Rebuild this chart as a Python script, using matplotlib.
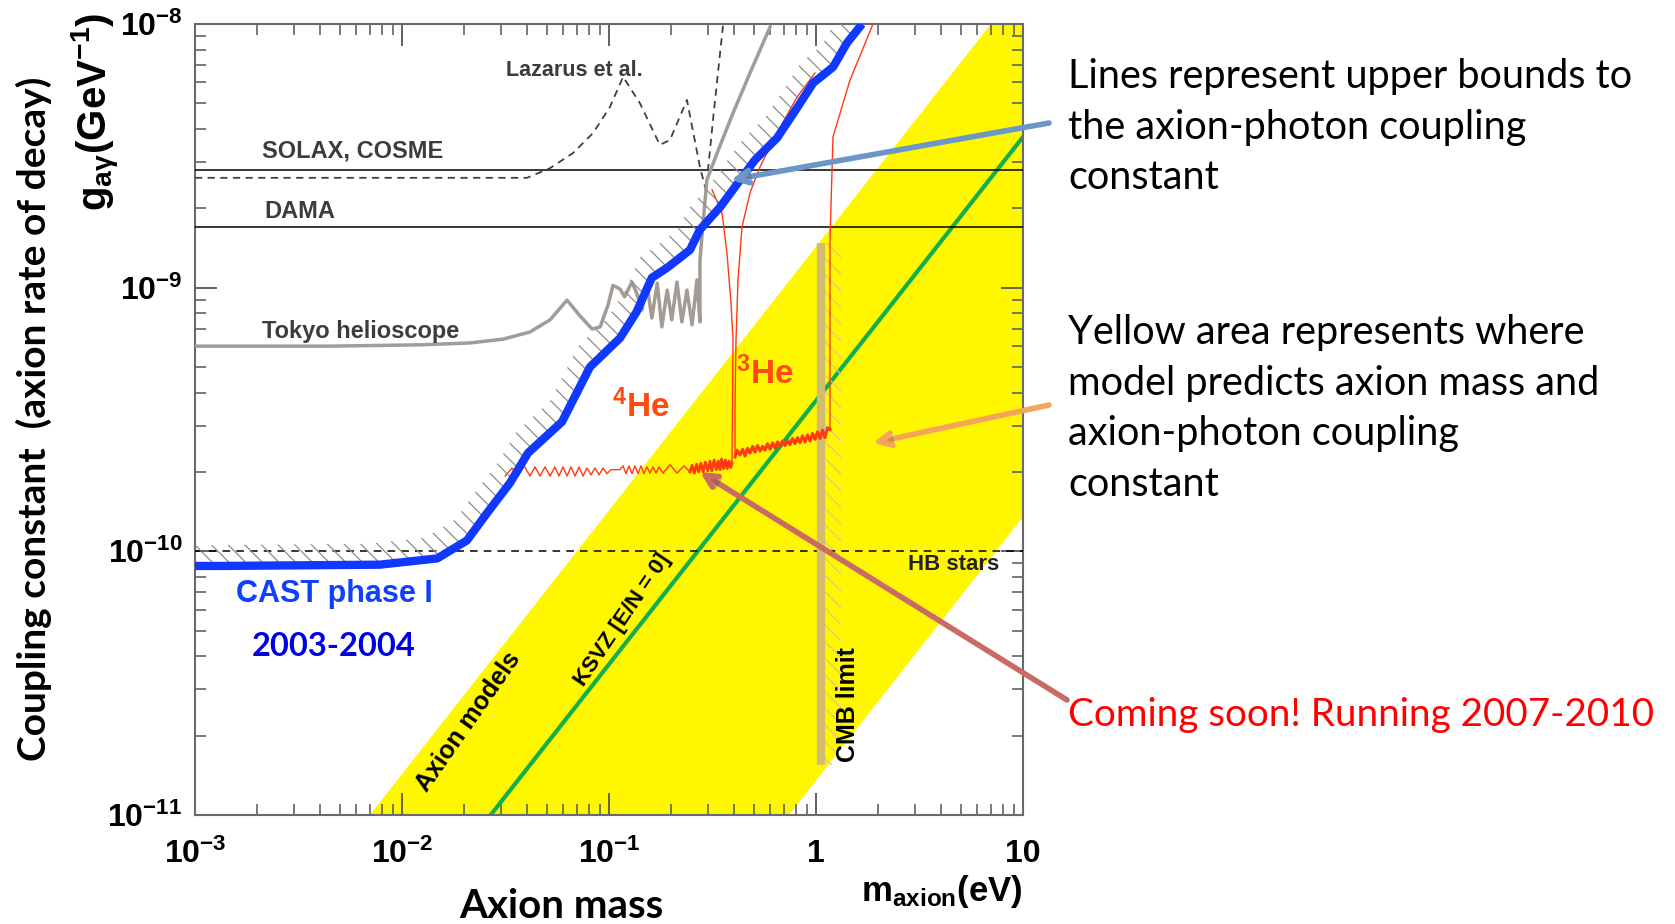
import matplotlib
matplotlib.use('Agg')
import matplotlib.pyplot as plt
import matplotlib.patheffects as pe

plt.rcParams['font.family'] = ['Liberation Sans', 'DejaVu Sans']
plt.rcParams['mathtext.fontset'] = 'custom'
plt.rcParams['mathtext.rm'] = 'Liberation Sans'
plt.rcParams['mathtext.it'] = 'Liberation Sans:italic'
plt.rcParams['mathtext.bf'] = 'Liberation Sans:bold'
plt.rcParams['mathtext.default'] = 'bf'
plt.rcParams['hatch.linewidth'] = 0.9

# ticks
x_ticks = [1e-3, 1e-2, 1e-1, 1, 10]
x_ticklabels = ['$10^{-3}$', '$10^{-2}$', '$10^{-1}$', '1', '10']
y_ticks = [1e-11, 1e-10, 1e-9, 1e-8]
y_ticklabels = ['$10^{-11}$', '$10^{-10}$', '$10^{-9}$', '$10^{-8}$']

# CAST phase I exclusion limit, mass in eV, coupling in GeV^-1
cast_m = [1.0e-3, 1.3e-3, 7.8e-3, 1.48e-2, 2.06e-2, 2.58e-2, 3.33e-2, 4.06e-2,
          5.93e-2, 8.09e-2, 0.113, 0.136, 0.161, 0.191, 0.246, 0.275, 0.344,
          0.430, 0.507, 0.649, 0.809, 0.968, 1.21, 1.41, 1.67]
cast_g = [8.8e-11, 8.8e-11, 8.9e-11, 9.4e-11, 1.10e-10, 1.40e-10, 1.82e-10, 2.36e-10,
          3.10e-10, 5.0e-10, 6.44e-10, 8.1e-10, 1.09e-9, 1.19e-9, 1.39e-9, 1.66e-9,
          2.02e-9, 2.56e-9, 3.05e-9, 3.70e-9, 4.80e-9, 5.97e-9, 6.87e-9, 8.47e-9, 1.0e-8]

# Tokyo helioscope
tokyo_m = [1e-3, 4.49e-3, 1.22e-2, 2.13e-2, 3.08e-2, 4.15e-2, 5.19e-2, 6.27e-2, 7.24e-2,
           8.28e-2, 9.06e-2, 9.89e-2, 0.1045, 0.113, 0.119, 0.129, 0.136, 0.144, 0.153,
           0.161, 0.171, 0.180, 0.191, 0.201, 0.213, 0.225, 0.238, 0.252, 0.266, 0.275,
           0.275, 0.281, 0.297, 0.333, 0.397, 0.480, 0.600]
tokyo_g = [6.0e-10, 6.0e-10, 6.07e-10, 6.17e-10, 6.38e-10, 6.79e-10, 7.55e-10, 8.97e-10, 7.82e-10,
           6.97e-10, 7.10e-10, 8.59e-10, 1.02e-9, 9.89e-10, 9.23e-10, 1.05e-9, 9.55e-10, 8.22e-10,
           1.02e-9, 7.67e-10, 1.04e-9, 7.10e-10, 9.79e-10, 7.55e-10, 1.05e-9, 7.41e-10, 9.79e-10,
           7.23e-10, 1.07e-9, 7.41e-10, 1.27e-9, 1.56e-9, 2.56e-9, 3.24e-9, 4.59e-9, 6.52e-9, 9.75e-9]

# Lazarus et al.
lazarus_m = [1e-3, 4.02e-2, 5.19e-2, 6.70e-2, 8.38e-2, 0.101, 0.117, 0.141, 0.176,
             0.197, 0.238, 0.275, 0.294, 0.318, 0.344, 0.356]
lazarus_g = [2.61e-9, 2.61e-9, 2.84e-9, 3.24e-9, 3.86e-9, 4.84e-9, 6.30e-9, 5.01e-9, 3.48e-9,
             3.63e-9, 5.15e-9, 2.87e-9, 2.34e-9, 4.33e-9, 7.76e-9, 1.0e-8]

# flat bounds
solax_g = 2.8e-9
dama_g = 1.7e-9
hb_g = 1.0e-10

# axion model band (g proportional to m) and KSVZ line
band_m = [1e-4, 100]
band_upper = [1.43e-13, 1.43e-7]
band_lower = [1.35e-15, 1.35e-9]
ksvz_m = [1e-4, 100]
ksvz_g = [3.73e-14, 3.73e-8]

# CMB limit
cmb_m = 1.06
cmb_g = [1.55e-11, 1.48e-9]

# CAST phase II, 4He
he4_m = [0.0315, 0.0340, 0.0363, 0.0389, 0.0415, 0.0439, 0.0464, 0.0491, 0.0519, 0.0548,
         0.0573, 0.0600, 0.0627, 0.0655, 0.0685, 0.0717, 0.0749, 0.0783, 0.0819, 0.0856,
         0.0895, 0.0936, 0.0978, 0.1022, 0.1130, 0.1168, 0.1208, 0.1249, 0.1291, 0.1335,
         0.1380, 0.1427, 0.1476, 0.1526, 0.1578, 0.1631, 0.1687, 0.1744, 0.1824, 0.1971,
         0.2131, 0.2304, 0.2462]
he4_g = [1.93e-10, 2.07e-10, 1.93e-10, 2.11e-10, 1.93e-10, 2.09e-10, 1.93e-10, 2.09e-10, 1.93e-10, 2.09e-10,
         1.93e-10, 2.09e-10, 1.93e-10, 2.09e-10, 1.93e-10, 2.09e-10, 1.93e-10, 2.07e-10, 1.95e-10, 2.07e-10,
         1.95e-10, 2.07e-10, 1.97e-10, 2.04e-10, 2.04e-10, 2.11e-10, 1.97e-10, 2.11e-10, 1.97e-10, 2.11e-10,
         1.97e-10, 2.11e-10, 1.97e-10, 2.09e-10, 1.98e-10, 2.09e-10, 1.98e-10, 2.09e-10, 1.98e-10, 2.13e-10,
         1.98e-10, 2.11e-10, 2.0e-10]
he4_noise_m = [0.2462, 0.252, 0.258, 0.265, 0.271, 0.278, 0.285, 0.292, 0.300, 0.3075,
               0.314, 0.322, 0.330, 0.337, 0.3438, 0.350, 0.357, 0.365, 0.372, 0.380,
               0.387, 0.3928]
he4_noise_g = [2.0e-10, 2.12e-10, 1.98e-10, 2.14e-10, 2.0e-10, 2.16e-10, 2.0e-10, 2.18e-10, 2.02e-10, 2.2e-10,
               2.02e-10, 2.22e-10, 2.04e-10, 2.2e-10, 2.04e-10, 2.24e-10, 2.06e-10, 2.22e-10, 2.06e-10, 2.2e-10,
               2.08e-10, 2.16e-10]
he4_edge_m = [0.3928, 0.3972, 0.3885, 0.3715, 0.3516, 0.3146]
he4_edge_g = [2.13e-10, 6.33e-10, 8.75e-10, 1.35e-9, 1.92e-9, 2.35e-9]

# CAST phase II, 3He
he3_branch_m = [0.989, 0.8094, 0.648, 0.5364, 0.480, 0.439, 0.420, 0.4107, 0.4062, 0.4062]
he3_branch_g = [6.52e-9, 5.28e-9, 3.86e-9, 2.87e-9, 2.29e-9, 1.70e-9, 1.07e-9, 6.33e-10, 3.5e-10, 2.28e-10]
he3_floor_m = [0.4062, 0.415, 0.4295, 0.442, 0.454, 0.467, 0.48, 0.494, 0.5075, 0.522,
               0.537, 0.552, 0.567, 0.583, 0.60, 0.617, 0.634, 0.652, 0.67, 0.689,
               0.7083, 0.728, 0.749, 0.77, 0.7916, 0.814, 0.837, 0.861, 0.885, 0.91,
               0.936, 0.962, 0.989, 1.017, 1.046, 1.075, 1.105, 1.136, 1.168]
he3_floor_g = [2.28e-10, 2.42e-10, 2.32e-10, 2.44e-10, 2.3e-10, 2.46e-10, 2.36e-10, 2.5e-10, 2.38e-10, 2.52e-10,
               2.4e-10, 2.5e-10, 2.42e-10, 2.56e-10, 2.44e-10, 2.58e-10, 2.46e-10, 2.6e-10, 2.5e-10, 2.62e-10,
               2.52e-10, 2.64e-10, 2.54e-10, 2.68e-10, 2.56e-10, 2.7e-10, 2.58e-10, 2.74e-10, 2.6e-10, 2.76e-10,
               2.62e-10, 2.8e-10, 2.66e-10, 2.84e-10, 2.68e-10, 2.88e-10, 2.7e-10, 2.94e-10, 2.9e-10]
he3_edge_m = [1.168, 1.168, 1.208, 1.46, 1.886]
he3_edge_g = [2.9e-10, 1.5e-9, 3.73e-9, 6.13e-9, 1.0e-8]

W, H = 1675, 924


def px(x, y):
    # pixel position (from top-left) to figure fraction
    return x / W, 1 - y / H


fig = plt.figure(figsize=(W / 100, H / 100), dpi=100)
ax = fig.add_axes([195 / W, 1 - 815 / H, 828 / W, 791 / H])
ax.set_xscale('log')
ax.set_yscale('log')
ax.set_xlim(1e-3, 10)
ax.set_ylim(1e-11, 1e-8)

# yellow model band + KSVZ
ax.fill_between(band_m, band_lower, band_upper, color='#fff700', lw=0, zorder=1)
ax.plot(ksvz_m, ksvz_g, color='#12b04c', lw=3, zorder=2)

# horizontal bounds
ax.axhline(solax_g, color='black', lw=1.1, zorder=3)
ax.axhline(dama_g, color='black', lw=1.1, zorder=3)
ax.axhline(hb_g, color='black', lw=1.1, ls=(0, (5, 4)), zorder=3)

# CMB limit with its hatched side
ax.fill_betweenx(cmb_g, cmb_m * 1.035, cmb_m * 1.25, facecolor='none',
                 edgecolor='#d9c98a', hatch=r'\\', lw=0, zorder=2)
ax.plot([cmb_m, cmb_m], cmb_g, color='#d4bb72', lw=6, solid_capstyle='butt', zorder=4)

# other experiments
ax.plot(lazarus_m, lazarus_g, color='#404040', lw=1.3, ls=(0, (4, 3)), zorder=4)
ax.plot(tokyo_m, tokyo_g, color='#a39b94', lw=2.5, zorder=4)

# CAST phase II
red = '#ff3a10'
ax.plot(he4_m, he4_g, color=red, lw=1.0, zorder=5)
ax.plot(he4_noise_m, he4_noise_g, color=red, lw=2.0, zorder=5)
ax.plot(he4_edge_m, he4_edge_g, color=red, lw=1.0, zorder=5)
ax.plot(he3_branch_m, he3_branch_g, color=red, lw=1.0, zorder=5)
ax.plot(he3_floor_m, he3_floor_g, color=red, lw=2.2, zorder=5)
ax.plot(he3_edge_m, he3_edge_g, color=red, lw=1.0, zorder=5)

# CAST phase I with hatched excluded side
hatch_m = cast_m + [m / 1.14 for m in cast_m[::-1]]
hatch_g = cast_g + [g * 1.2 for g in cast_g[::-1]]
ax.fill(hatch_m, hatch_g, facecolor='none', edgecolor='#8c8c8c', hatch=r'\\', lw=0, zorder=5)
ax.plot(cast_m, cast_g, color='#1038ff', lw=6, zorder=6, solid_capstyle='butt')

# axes styling
for s in ax.spines.values():
    s.set_color('#6a6a6a')
    s.set_linewidth(1.5)
ax.tick_params(which='both', direction='in', top=True, right=True, color='#555555')
ax.tick_params(which='major', length=16, width=1.3)
ax.tick_params(which='minor', length=8, width=1.1)
ax.set_xticks(x_ticks)
ax.set_xticklabels(x_ticklabels, fontsize=23, fontweight='bold')
ax.set_yticks(y_ticks)
ax.set_yticklabels(y_ticklabels, fontsize=23, fontweight='bold')
ax.tick_params(axis='x', pad=17)
ax.tick_params(axis='y', pad=9)

# labels inside the plot
lab = dict(fontsize=17, fontweight='bold', color='#3c3c3c')
fig.text(*px(262, 151), 'SOLAX, COSME', ha='left', va='center', **lab)
fig.text(*px(264, 211), 'DAMA', ha='left', va='center', **lab)
fig.text(*px(262, 332), 'Tokyo helioscope', ha='left', va='center', **lab)
fig.text(*px(574, 70), 'Lazarus et al.', ha='center', va='center', fontsize=15.5,
         fontweight='bold', color='#3c3c3c')
fig.text(*px(954, 565), 'HB stars', ha='center', va='center', fontsize=16,
         fontweight='bold', color='#222222')
fig.text(*px(334, 594), 'CAST phase I', ha='center', va='center', fontsize=22,
         fontweight='bold', color='#1040ff')
fig.text(*px(334, 647), '2003-2004', ha='center', va='center', fontsize=23.5,
         fontweight='bold', color='#0000e6', family=['Lato', 'DejaVu Sans'])
fig.text(*px(641, 407), r'$^{4}$He', ha='center', va='center', fontsize=24,
         fontweight='bold', color='#ff4a10')
fig.text(*px(765, 374), r'$^{3}$He', ha='center', va='center', fontsize=24,
         fontweight='bold', color='#ff4a10')
fig.text(*px(468, 722), 'Axion models', ha='center', va='center', fontsize=18,
         fontweight='bold', rotation=55)
fig.text(*px(623, 620), 'KSVZ [E/N = 0]', ha='center', va='center', fontsize=16,
         fontweight='bold', rotation=56)
fig.text(*px(848, 705), 'CMB limit', ha='center', va='center', fontsize=18,
         fontweight='bold', rotation=90)

# axis titles
fig.text(*px(34, 419), 'Coupling constant  (axion rate of decay)', rotation=90,
         ha='center', va='center', fontsize=28, fontweight='bold',
         family=['Lato', 'DejaVu Sans'])
fig.text(*px(96, 112), r'g$_{a\gamma}$(GeV$^{-1}$)', rotation=90, ha='center',
         va='center', fontsize=29, fontweight='bold')
fig.text(*px(561, 906), 'Axion mass', ha='center', va='center', fontsize=29,
         fontweight='bold', family=['Lato', 'DejaVu Sans'])
fig.text(*px(942, 892), r'm$_{axion}$(eV)', ha='center', va='center', fontsize=25,
         fontweight='bold')

# notes on the right
note = dict(fontsize=28.5, family=['Lato', 'DejaVu Sans'], ha='left', va='top',
            linespacing=1.45)
fig.text(*px(1068, 58), 'Lines represent upper bounds to\nthe axion-photon coupling\nconstant',
         color='black', **note)
fig.text(*px(1068, 314), 'Yellow area represents where\nmodel predicts axion mass and\n'
         'axion-photon coupling\nconstant', color='black', **note)
fig.text(*px(1068, 697), 'Coming soon! Running 2007-2010', color='#ff0000',
         **dict(note, fontsize=27.8))

# pointer arrows
shadow = [pe.SimplePatchShadow(offset=(2, -2), alpha=0.3), pe.Normal()]
for tail, tip, col in [((1049, 123), (731, 180), '#6a96c8'),
                       ((1049, 405), (873, 443), '#f5a55a'),
                       ((1067, 700), (700, 472), '#c96a64')]:
    ax.annotate('', xy=px(*tip), xycoords='figure fraction', xytext=px(*tail),
                textcoords='figure fraction', annotation_clip=False, zorder=10,
                arrowprops=dict(arrowstyle='->,head_length=0.9,head_width=0.45',
                                color=col, lw=4, shrinkA=0, shrinkB=0,
                                path_effects=shadow))

fig.savefig('out.png', dpi=100)
